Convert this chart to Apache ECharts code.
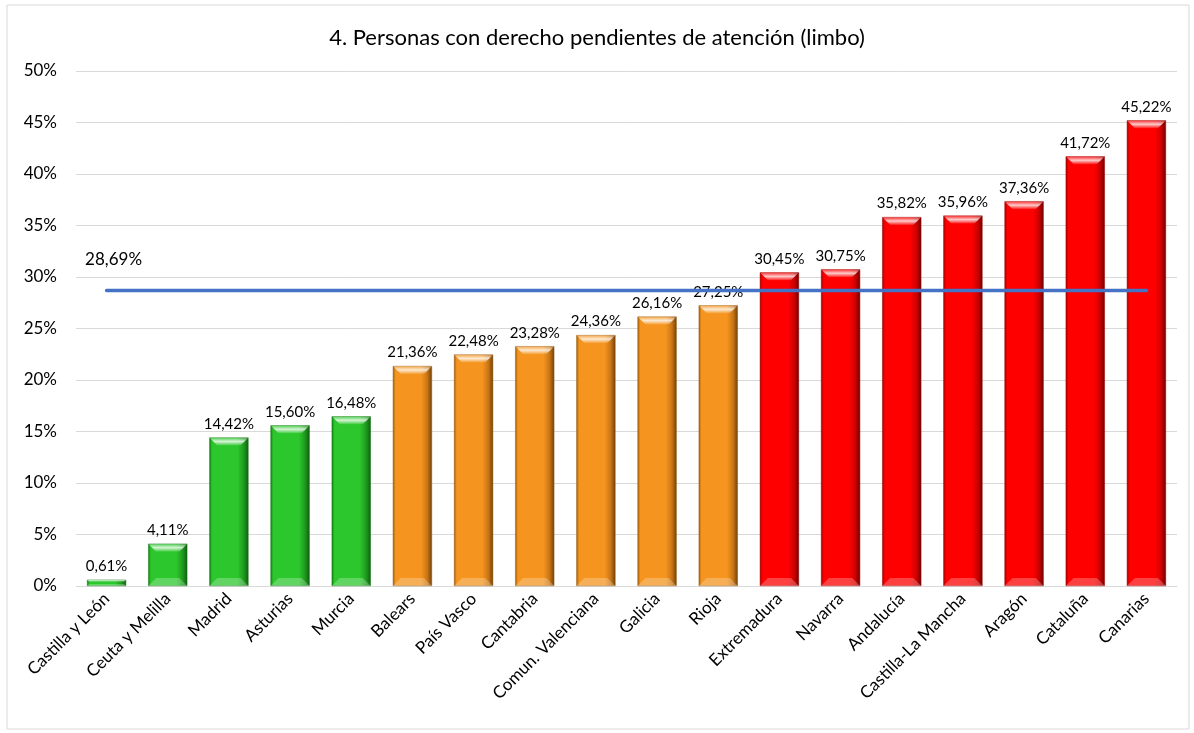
<!DOCTYPE html>
<html>
<head>
<meta charset="utf-8">
<script src="https://cdn.jsdelivr.net/npm/echarts@6/dist/echarts.min.js"></script>
<style>
  html, body { margin: 0; padding: 0; background: #fff; }
  #chart { width: 1194px; height: 733px; }
</style>
</head>
<body>
<div id="chart"></div>
<script>
const categories = [
  "Castilla y León", "Ceuta y Melilla", "Madrid", "Asturias", "Murcia",
  "Balears", "País Vasco", "Cantabria", "Comun. Valenciana", "Galicia", "Rioja",
  "Extremadura", "Navarra", "Andalucía", "Castilla-La Mancha", "Aragón", "Cataluña", "Canarias"
];
const values = [
  0.61, 4.11, 14.42, 15.60, 16.48,
  21.36, 22.48, 23.28, 24.36, 26.16, 27.25,
  30.45, 30.75, 35.82, 35.96, 37.36, 41.72, 45.22
];
// group of each bar: 0 green, 1 orange, 2 red
const groups = [0, 0, 0, 0, 0, 1, 1, 1, 1, 1, 1, 2, 2, 2, 2, 2, 2, 2];
const average = 28.69;

const palettes = [
  { edge: "#137a13", base: "#2cc72c", shade: "#1f9a1f", dark: "#0f5e0f" },
  { edge: "#9c5a0c", base: "#f5951f", shade: "#c97514", dark: "#6e400a" },
  { edge: "#a00000", base: "#ff0000", shade: "#cc0000", dark: "#6a0000" }
];

const fmt = (v) => v.toFixed(2).replace(".", ",") + "%";

const barGradient = (p) => new echarts.graphic.LinearGradient(0, 0, 1, 0, [
  { offset: 0, color: p.edge },
  { offset: 0.07, color: p.base },
  { offset: 0.72, color: p.base },
  { offset: 0.88, color: p.shade },
  { offset: 1, color: p.dark }
]);

const BAR_RATIO = 0.64;

// bevel caps drawn on top of each bar
const renderBevel = (params, api) => {
  const idx = api.value(0);
  const val = api.value(1);
  const top = api.coord([idx, val]);
  const bottom = api.coord([idx, 0]);
  const w = api.size([1, 0])[0] * BAR_RATIO;
  const x0 = top[0] - w / 2;
  const x1 = top[0] + w / 2;
  const h = bottom[1] - top[1];
  const b = Math.min(8, h / 3);
  if (b < 2) return null;
  return {
    type: "group",
    children: [
      {
        type: "polygon",
        shape: { points: [[x0, top[1]], [x1, top[1]], [x1 - b, top[1] + b], [x0 + b, top[1] + b]] },
        style: {
          fill: new echarts.graphic.LinearGradient(0, 0, 0, 1, [
            { offset: 0, color: "rgba(255,255,255,0.15)" },
            { offset: 0.5, color: "rgba(255,255,255,0.8)" },
            { offset: 1, color: "rgba(255,255,255,0.1)" }
          ])
        }
      },
      {
        type: "polygon",
        shape: { points: [[x0 + b, bottom[1] - b], [x1 - b, bottom[1] - b], [x1, bottom[1]], [x0, bottom[1]]] },
        style: { fill: "rgba(255,255,255,0.25)" }
      }
    ]
  };
};

const chart = echarts.init(document.getElementById("chart"));

chart.setOption({
  backgroundColor: "#fff",
  animation: false,
  textStyle: { fontFamily: "Lato, 'Noto Sans', sans-serif" },
  title: {
    text: "4. Personas con derecho pendientes de atención (limbo)",
    left: "center",
    top: 22,
    textStyle: { fontSize: 22, fontWeight: "normal", color: "#000", fontFamily: "Lato" }
  },
  graphic: [{
    type: "rect",
    shape: { x: 7, y: 5, width: 1182, height: 724 },
    style: { fill: "none", stroke: "#d9d9d9", lineWidth: 1 },
    silent: true
  }],
  grid: { left: 76, right: 17, top: 71, bottom: 147 },
  xAxis: {
    type: "category",
    data: categories,
    axisTick: { show: false },
    axisLine: { lineStyle: { color: "#d9d9d9" } },
    axisLabel: {
      rotate: 45,
      interval: 0,
      color: "#000",
      fontSize: 17,
      margin: 10
    }
  },
  yAxis: {
    type: "value",
    min: 0,
    max: 50,
    interval: 5,
    axisLine: { show: false },
    axisTick: { show: false },
    splitLine: { lineStyle: { color: "#d9d9d9" } },
    axisLabel: {
      color: "#000",
      fontSize: 17,
      margin: 19,
      formatter: (v) => v + "%"
    }
  },
  series: [
    {
      type: "bar",
      barWidth: (BAR_RATIO * 100) + "%",
      data: values.map((v, i) => ({
        value: v,
        itemStyle: {
          color: barGradient(palettes[groups[i]]),
          borderColor: palettes[groups[i]].edge,
          borderWidth: 0.5
        }
      })),
      label: {
        show: true,
        position: "top",
        distance: 6,
        color: "#000",
        fontSize: 15,
        formatter: (p) => fmt(p.value)
      }
    },
    {
      type: "custom",
      renderItem: renderBevel,
      data: values.map((v, i) => [i, v]),
      z: 3,
      silent: true
    },
    {
      type: "line",
      data: categories.map(() => average),
      symbol: "circle",
      symbolSize: 0.1,
      showSymbol: true,
      z: 5,
      lineStyle: { color: "#4472c4", width: 3.5, cap: "round" },
      label: {
        show: true,
        position: "top",
        distance: 22,
        offset: [7, 0],
        color: "#000",
        fontSize: 17,
        formatter: (p) => (p.dataIndex === 0 ? fmt(average) : "")
      }
    }
  ]
});
</script>
</body>
</html>
